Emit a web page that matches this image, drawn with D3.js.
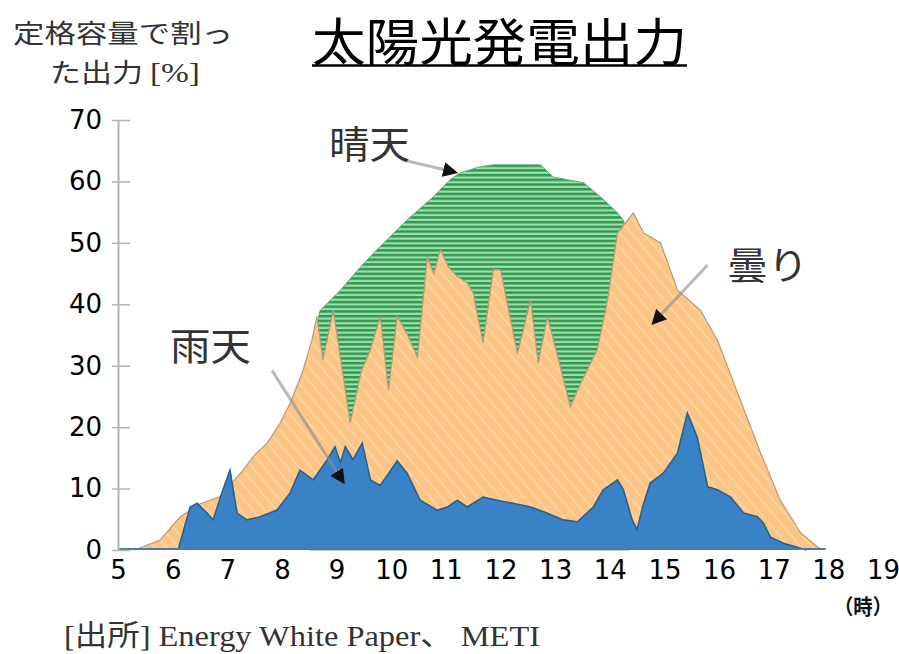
<!DOCTYPE html>
<html>
<head>
<meta charset="utf-8">
<script src="https://cdn.jsdelivr.net/npm/d3@7"></script>
<style>
  html, body { margin: 0; padding: 0; background: #ffffff; }
  svg { display: block; }
</style>
</head>
<body>
<svg id="chart" width="899" height="654"></svg>
<script>
// ---------- data ----------
const hourTicks = [5, 6, 7, 8, 9, 10, 11, 12, 13, 14, 15, 16, 17, 18, 19];
const valueTicks = [0, 10, 20, 30, 40, 50, 60, 70];

// 晴天 (sunny)
const sunnyHours  = [8.5, 8.7, 9.07, 9.43, 9.74, 10.16, 10.35, 10.77, 11.08, 11.26, 11.63, 11.87, 12.73, 12.97, 13.52, 13.83, 14.14, 14.25, 14.35];
const sunnyValues = [32, 39, 42.3, 46, 48.9, 52.6, 54.2, 57.5, 60.3, 61.4, 62.4, 62.7, 62.7, 60.7, 59.8, 57.5, 54.9, 53.7, 50];

// 曇り (cloudy)
const cloudyHours  = [5.3, 5.77, 6.14, 6.5, 6.87, 7.29, 7.5, 7.73, 7.97, 8.15, 8.37, 8.55, 8.64, 8.75, 8.94, 9.25, 9.45, 9.62, 9.8, 9.95, 10.11, 10.3, 10.48, 10.66, 10.78, 10.9, 11.05, 11.21, 11.39, 11.5, 11.68, 11.87, 12.0, 12.31, 12.55, 12.69, 12.86, 13.28, 13.46, 13.77, 13.96, 14.14, 14.43, 14.62, 14.93, 15.24, 15.66, 15.97, 16.39, 16.76, 17.12, 17.49, 17.8, 17.9];
const cloudyValues = [0, 1.6, 5.4, 7.5, 8.7, 13, 15.5, 17.4, 20.7, 23.9, 28.8, 34.2, 38, 31, 39, 20.7, 29, 32.6, 38, 26, 38, 35, 31.4, 47.7, 45, 48.9, 46, 44.5, 43.5, 41.9, 33.7, 45.6, 45.6, 32, 40.7, 30.5, 38, 23.3, 27, 32.6, 40.7, 51.6, 54.9, 51.6, 50, 42.3, 39, 34.2, 24.4, 15.8, 8.1, 2.8, 0.5, 0];

// 雨天 (rainy)
const rainyHours  = [6.1, 6.32, 6.45, 6.63, 6.74, 6.92, 7.05, 7.18, 7.36, 7.6, 7.91, 8.15, 8.33, 8.57, 8.83, 8.97, 9.07, 9.16, 9.3, 9.47, 9.62, 9.8, 10.11, 10.29, 10.53, 10.84, 11.03, 11.21, 11.39, 11.68, 11.94, 12.23, 12.55, 12.86, 13.15, 13.41, 13.7, 13.88, 14.14, 14.25, 14.41, 14.5, 14.6, 14.74, 14.98, 15.24, 15.42, 15.6, 15.79, 15.97, 16.21, 16.45, 16.7, 16.81, 16.94, 17.18, 17.49, 17.6];
const rainyValues = [0, 7, 7.6, 6, 4.9, 9.8, 13, 6, 4.9, 5.4, 6.5, 9.3, 13, 11.4, 14.7, 16.8, 14.2, 16.8, 14.7, 17.4, 11.4, 10.5, 14.5, 12.5, 8.1, 6.5, 7, 8.1, 7, 8.6, 8.1, 7.6, 7, 6, 4.9, 4.6, 7, 9.8, 11.4, 9.8, 4.9, 3.3, 7, 10.9, 12.5, 15.8, 22.3, 18.4, 10.3, 9.8, 8.6, 6, 5.4, 4.4, 2.1, 1.1, 0.3, 0];

// annotations: label, text position (hour, value), arrow start, arrow end
const annotationLabels = ["晴天", "曇り", "雨天"];
const annotationText   = [[8.86, 63.8], [16.15, 44.1], [5.95, 31.0]];
const arrowFrom        = [[10.22, 63.5], [15.79, 46.4], [7.82, 29.2]];
const arrowTo          = [[11.17, 61.5], [14.80, 37.0], [9.12, 11.1]];

const titleText = "太陽光発電出力";
const yTitleLines = ["定格容量で割っ", "た出力 [%]"];
const unitText = "（時）";
const sourceText = "[出所]  Energy White Paper、 METI";

// ---------- drawing ----------
const svg = d3.select("#chart");
const x = d3.scaleLinear().domain([5, 19]).range([118, 883]);
const y = d3.scaleLinear().domain([0, 70]).range([550, 120]);

const defs = svg.append("defs");
// green horizontal stripes
const gp = defs.append("pattern").attr("id", "greenStripe")
  .attr("patternUnits", "userSpaceOnUse").attr("width", 10).attr("height", 4.7);
gp.append("rect").attr("width", 10).attr("height", 4.7).attr("fill", "#96e3ab");
gp.append("rect").attr("width", 10).attr("height", 2.5).attr("fill", "#37944f");
// orange with faint diagonal hatching
const op = defs.append("pattern").attr("id", "orangeHatch")
  .attr("patternUnits", "userSpaceOnUse").attr("width", 9).attr("height", 9)
  .attr("patternTransform", "rotate(-40)");
op.append("rect").attr("width", 9).attr("height", 9).attr("fill", "#fbc585");
op.append("rect").attr("width", 1.6).attr("height", 9).attr("fill", "#fdd5a3");

const areaGen = d3.area()
  .x(d => x(d[0])).y0(y(0)).y1(d => y(d[1]))
  .curve(d3.curveLinear);
const lineGen = d3.line().x(d => x(d[0])).y(d => y(d[1])).curve(d3.curveLinear);

const sunny = d3.zip(sunnyHours, sunnyValues);
const cloudy = d3.zip(cloudyHours, cloudyValues);
const rainy = d3.zip(rainyHours, rainyValues);

svg.append("path").datum(sunny).attr("d", areaGen)
  .attr("fill", "url(#greenStripe)").attr("stroke", "#5aae74").attr("stroke-width", 1);

svg.append("path").datum(cloudy).attr("d", areaGen)
  .attr("fill", "url(#orangeHatch)");
svg.append("path").datum(cloudy).attr("d", lineGen)
  .attr("fill", "none").attr("stroke", "#b99a74").attr("stroke-width", 1.2);

svg.append("path").datum(rainy).attr("d", areaGen)
  .attr("fill", "#3a82c6");
svg.append("path").datum(rainy).attr("d", lineGen)
  .attr("fill", "none").attr("stroke", "#2d5f8c").attr("stroke-width", 1.6);

// baseline
svg.append("line")
  .attr("x1", x(5)).attr("x2", x(17.95)).attr("y1", y(0) - 1).attr("y2", y(0) - 1)
  .attr("stroke", "#4d7aa6").attr("stroke-width", 2);

// y axis
const yAxis = d3.axisLeft(y).tickValues(valueTicks).tickSize(0).tickPadding(16);
const yg = svg.append("g").attr("transform", `translate(${x(5)},0)`).call(yAxis);
yg.select(".domain").attr("stroke", "#b3b3b3").attr("stroke-width", 2);
yg.selectAll(".tick text")
  .attr("font-family", "DejaVu Sans").attr("font-size", 26).attr("fill", "#000");
yg.selectAll(".tick").append("line")
  .attr("x1", -6).attr("x2", 12).attr("stroke", "#b3b3b3").attr("stroke-width", 1.5);

// x axis labels
const xAxis = d3.axisBottom(x).tickValues(hourTicks).tickSize(0).tickPadding(11);
const xg = svg.append("g").attr("transform", `translate(0,${y(0)})`).call(xAxis);
xg.select(".domain").remove();
xg.selectAll(".tick text")
  .attr("font-family", "DejaVu Sans").attr("font-size", 26).attr("fill", "#000");

// arrows
const arrowDefs = defs.append("marker").attr("id", "arrowHead")
  .attr("viewBox", "0 0 10 10").attr("refX", 8).attr("refY", 5)
  .attr("markerWidth", 5).attr("markerHeight", 5).attr("markerUnits", "strokeWidth")
  .attr("orient", "auto");
arrowDefs.append("path").attr("d", "M0,0 L10,5 L0,10 z").attr("fill", "#111");

annotationLabels.forEach((lab, i) => {
  svg.append("line")
    .attr("x1", x(arrowFrom[i][0])).attr("y1", y(arrowFrom[i][1]))
    .attr("x2", x(arrowTo[i][0])).attr("y2", y(arrowTo[i][1]))
    .attr("stroke", "#8a8a8a").attr("stroke-width", 3)
    .attr("stroke-opacity", 0.6)
    .attr("marker-end", "url(#arrowHead)");
  svg.append("text")
    .attr("x", x(annotationText[i][0])).attr("y", y(annotationText[i][1]))
    .attr("font-family", "Noto Sans CJK JP").attr("font-size", 38)
    .attr("textLength", 81).attr("lengthAdjust", "spacingAndGlyphs")
    .attr("fill", "#333").text(lab);
});

// title
svg.append("text").attr("x", 312).attr("y", 61)
  .attr("font-family", "Noto Sans CJK JP").attr("font-size", 51)
  .attr("textLength", 375).attr("lengthAdjust", "spacingAndGlyphs")
  .attr("fill", "#000").text(titleText);
svg.append("line").attr("x1", 312).attr("x2", 687).attr("y1", 65.5).attr("y2", 65.5)
  .attr("stroke", "#000").attr("stroke-width", 2.5);

// y title
svg.append("text").attr("x", 13).attr("y", 43)
  .attr("font-family", "Noto Sans CJK JP").attr("font-size", 26)
  .attr("textLength", 220).attr("lengthAdjust", "spacingAndGlyphs")
  .attr("fill", "#333").text(yTitleLines[0]);
const t2 = svg.append("text").attr("x", 50).attr("y", 82)
  .attr("font-size", 26).attr("fill", "#333")
  .attr("textLength", 150).attr("lengthAdjust", "spacingAndGlyphs");
t2.append("tspan").attr("font-family", "Noto Sans CJK JP").text("た出力 ");
t2.append("tspan").attr("font-family", "Liberation Serif").attr("font-size", 28).text("[%]");

// unit
svg.append("text").attr("x", 834).attr("y", 614)
  .attr("font-family", "Noto Sans CJK JP").attr("font-weight", "bold").attr("font-size", 21)
  .attr("textLength", 58).attr("lengthAdjust", "spacingAndGlyphs")
  .attr("fill", "#111").text(unitText);

// source
svg.append("text").attr("x", 64).attr("y", 646)
  .attr("font-family", "Liberation Serif, Noto Sans CJK JP").attr("font-size", 29)
  .attr("textLength", 476).attr("lengthAdjust", "spacingAndGlyphs")
  .attr("fill", "#333").text(sourceText);
</script>
</body>
</html>
